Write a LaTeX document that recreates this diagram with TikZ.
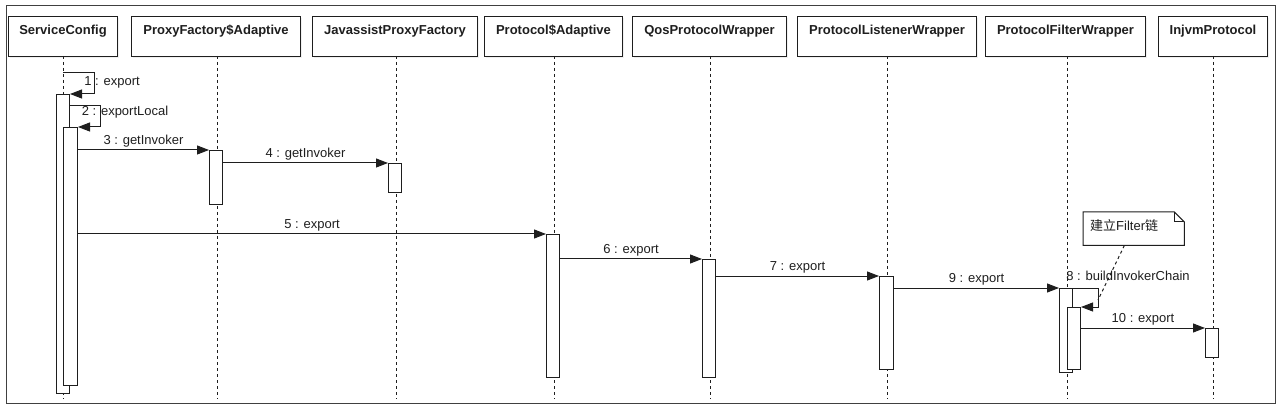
\documentclass[tikz,border=0pt]{standalone}
\usepackage{fontspec}
\setmainfont{Liberation Sans}
\newfontfamily\cjk{Noto Sans CJK SC}
\usetikzlibrary{arrows.meta,shadows}
\definecolor{ink}{HTML}{1E1E1E}
\tikzset{
  x=1pt,y=-1pt,
  frame/.style={draw=ink!85,line width=1pt},
  hdr/.style={draw=ink,line width=1pt,fill=white,anchor=north west,inner xsep=0pt,inner ysep=0pt,
    text height=18pt,text depth=22pt,font=\fontsize{13}{15}\selectfont\bfseries,text=ink,
    drop shadow={opacity=0.12,shadow xshift=1.5pt,shadow yshift=-1.5pt}},
  life/.style={draw=ink,line width=1pt,dash pattern=on 3pt off 3pt},
  act/.style={draw=ink,line width=1pt,fill=white,anchor=north west,inner sep=0pt,minimum width=13pt},
  msg/.style={draw=ink,line width=1pt,-{Triangle[length=12pt,width=9pt]}},
  lbl/.style={font=\fontsize{13}{15}\selectfont,text=ink,inner sep=2pt},
  note/.style={draw=ink,line width=1pt,fill=white},
}
\begin{document}
\begin{tikzpicture}
\useasboundingbox (0,0) rectangle (1280,406);
\draw[frame] (6,6) rectangle (1275,403);
% headers
\node[hdr,minimum width=109pt] (sc) at (8,16) {ServiceConfig};
\node[hdr,minimum width=169pt] (pf) at (131,16) {ProxyFactory\$Adaptive};
\node[hdr,minimum width=165pt] (ja) at (312,16) {JavassistProxyFactory};
\node[hdr,minimum width=138pt] (pa) at (484,16) {Protocol\$Adaptive};
\node[hdr,minimum width=154pt] (qw) at (632,16) {QosProtocolWrapper};
\node[hdr,minimum width=179pt] (lw) at (797,16) {ProtocolListenerWrapper};
\node[hdr,minimum width=160pt] (fw) at (985,16) {ProtocolFilterWrapper};
\node[hdr,minimum width=109pt] (ij) at (1158,16) {InjvmProtocol};
% lifelines
\coordinate (scE) at (63,399);
\coordinate (pfE) at (217,399);
\coordinate (jaE) at (396,399);
\coordinate (paE) at (554,399);
\coordinate (qwE) at (710,399);
\coordinate (lwE) at (887,399);
\coordinate (fwE) at (1067,399);
\coordinate (ijE) at (1213,399);
\draw[life] (63,56) -- (scE);
\draw[life] (217,56) -- (pfE);
\draw[life] (396,56) -- (jaE);
\draw[life] (554,56) -- (paE);
\draw[life] (710,56) -- (qwE);
\draw[life] (887,56) -- (lwE);
\draw[life] (1067,56) -- (fwE);
\draw[life] (1213,56) -- (ijE);
% activations
\node[act,minimum height=299pt] (sc1) at (56,94) {};
\node[act,minimum height=258pt,minimum width=14pt] (sc2) at (63,127) {};
\node[act,minimum height=54pt] (pf1) at (209,150) {};
\node[act,minimum height=29pt] (ja1) at (388,163) {};
\node[act,minimum height=143pt] (pa1) at (546,234) {};
\node[act,minimum height=118pt] (qw1) at (702,259) {};
\node[act,minimum height=93pt,minimum width=14pt] (lw1) at (879,276) {};
\node[act,minimum height=84pt] (fw1) at (1059,288) {};
\node[act,minimum height=62pt] (fw2) at (1067,307) {};
\node[act,minimum height=29pt] (ij1) at (1205,328) {};
% self messages
\coordinate (m1s) at (63,73);
\draw[msg] (m1s) -- (94,73) |- (sc1.north east);
\node[lbl] at (112,82) {1 : export};
\draw[msg] (sc1.east |- 0,106) -- (100,106) |- (sc2.north east);
\node[lbl] at (125,112) {2 : exportLocal};
\draw[msg] (fw1.north east) -- (1098,288) |- (fw2.north east);
\node[lbl] at (1128,276) {8 : buildInvokerChain};
% messages
\draw[msg] (sc2.east |- pf1.north) -- node[lbl,above]{3 : getInvoker} (pf1.north west);
\draw[msg] (pf1.east |- ja1.north) -- node[lbl,above]{4 : getInvoker} (ja1.north west);
\draw[msg] (sc2.east |- pa1.north) -- node[lbl,above]{5 : export} (pa1.north west);
\draw[msg] (pa1.east |- qw1.north) -- node[lbl,above]{6 : export} (qw1.north west);
\draw[msg] (qw1.east |- lw1.north) -- node[lbl,above]{7 : export} (lw1.north west);
\draw[msg] (lw1.east |- fw1.north) -- node[lbl,above]{9 : export} (fw1.north west);
\draw[msg] (fw2.east |- ij1.north) -- node[lbl,above]{10 : export} (ij1.north west);
% note
\node[inner sep=0pt,minimum width=101pt,minimum height=33pt,anchor=north west] (nt) at (1083,212) {};
\draw[note] (nt.north west) -- ([xshift=-10pt]nt.north east) -- ([yshift=-10pt]nt.north east) -- (nt.south east) -- (nt.south west) -- cycle;
\draw[note,fill=none] ([xshift=-10pt]nt.north east) |- ([yshift=-10pt]nt.north east);
\node[lbl,anchor=west] at ([xshift=5pt,yshift=3pt]nt.west) {\cjk 建立\fontspec{Liberation Sans}Filter\cjk 链};
\coordinate (ntE) at (1098,300);
\draw[life] ([xshift=-60pt]nt.south east) -- (ntE);
\end{tikzpicture}
\end{document}
